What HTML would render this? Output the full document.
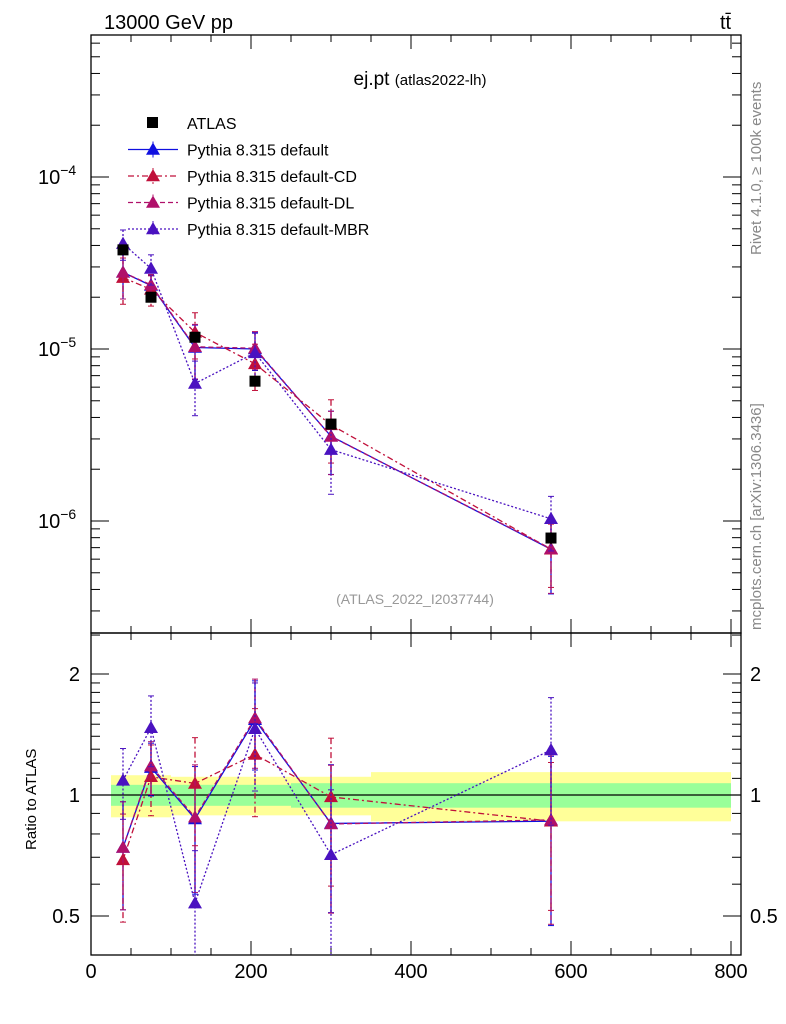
<!DOCTYPE html>
<html><head><meta charset="utf-8"><style>
body{margin:0;background:#fff;}
svg{display:block;font-family:"Liberation Sans",sans-serif;}
</style></head><body>
<svg id="c" width="786" height="1024" xmlns="http://www.w3.org/2000/svg">
<text x="104" y="29" font-size="20">13000 GeV pp</text>
<text x="720" y="29" font-size="20">tt̄</text>
<text x="420" y="85" font-size="19" text-anchor="middle">ej.pt <tspan font-size="15">(atlas2022-lh)</tspan></text>
<text x="415" y="604" font-size="14" fill="#999" text-anchor="middle">(ATLAS_2022_I2037744)</text>
<text transform="translate(761,255) rotate(-90)" font-size="15" fill="#888">Rivet 4.1.0, ≥ 100k events</text>
<text transform="translate(761,630) rotate(-90)" font-size="15" fill="#888">mcplots.cern.ch [arXiv:1306.3436]</text>
<text transform="translate(36,850) rotate(-90)" font-size="15">Ratio to ATLAS</text>
<g id="g"></g>
</svg>
<script>
const xs=[40,75,130,205,300,575];
const atlas=[3.77e-5,2.0e-5,1.17e-5,6.5e-6,3.66e-6,7.96e-7];
const atlasErr=[0.04,0.06,0.06,0.06,0.06,0.08];
const mDefault=[2.79e-5,2.34e-5,1.02e-5,1.0e-5,3.11e-6,6.85e-7];
const mCD=[2.6e-5,2.22e-5,1.25e-5,8.2e-6,3.62e-6,6.85e-7];
const mDL=[2.79e-5,2.36e-5,1.03e-5,1.01e-5,3.1e-6,6.9e-7];
const mMBR=[4.1e-5,2.94e-5,6.3e-6,9.5e-6,2.6e-6,1.03e-6];
const eDefault=[0.3,0.15,0.35,0.25,0.4,0.45];
const eCD=[0.3,0.2,0.3,0.3,0.4,0.4];
const eDL=[0.3,0.15,0.35,0.25,0.4,0.45];
const eMBR=[0.2,0.2,0.35,0.3,0.45,0.35];
const bandEdges=[25,55,100,160,250,350,800];
const bandIn=[0.06,0.06,0.06,0.06,0.07,0.07];
const bandOut=[0.12,0.12,0.11,0.11,0.11,0.14];
const xTicks=[0,200,400,600,800];

const NS="http://www.w3.org/2000/svg";
const g=document.getElementById('g');
function el(t,a,p){const e=document.createElementNS(NS,t);for(const k in a)e.setAttribute(k,a[k]);(p||g).appendChild(e);return e;}
const X=v=>91+v*0.8;
const Y=v=>177-(Math.log10(v)+4)*172;
const R=v=>795-Math.log2(v)*121;
const L=91,Rt=741,T=35,M=633,B=955;

// bands
for(let i=0;i<bandIn.length;i++){
  const x0=X(bandEdges[i]),x1=X(bandEdges[i+1]);
  let r=el('rect',{x:x0,y:R(1+bandOut[i]),width:x1-x0,height:R(1-bandOut[i])-R(1+bandOut[i]),fill:'#ffff99'});
  
  
  r=el('rect',{x:x0,y:R(1+bandIn[i]),width:x1-x0,height:R(1-bandIn[i])-R(1+bandIn[i]),fill:'#99ff99'});
  
  
}
el('line',{x1:L,x2:Rt,y1:R(1),y2:R(1),stroke:'#000','stroke-width':1.3});

// frames
el('rect',{x:L,y:T,width:Rt-L,height:M-T,fill:'none',stroke:'#000','stroke-width':1.3});
el('rect',{x:L,y:M,width:Rt-L,height:B-M,fill:'none',stroke:'#000','stroke-width':1.3});

// x ticks
for(let v=0;v<=800;v+=50){
  const big=v%200===0, len=big?14:7;
  el('line',{x1:X(v),x2:X(v),y1:B,y2:B-len,stroke:'#000'});
  el('line',{x1:X(v),x2:X(v),y1:M,y2:M-len,stroke:'#000'});
  el('line',{x1:X(v),x2:X(v),y1:M,y2:M+len,stroke:'#000'});
  el('line',{x1:X(v),x2:X(v),y1:T,y2:T+len,stroke:'#000'});
}
xTicks.forEach(v=>{const t=el('text',{x:X(v),y:978,'font-size':20,'text-anchor':'middle'});t.textContent=v;
 
 });

// main y ticks
for(let d=-7;d<=-3;d++)for(let m=1;m<10;m++){
  const v=m*Math.pow(10,d),y=Y(v);if(y<T||y>M)continue;
  const len=m===1?18:9;
  el('line',{x1:L,x2:L+len,y1:y,y2:y,stroke:'#000'});
  el('line',{x1:Rt,x2:Rt-len,y1:y,y2:y,stroke:'#000'});
}
[-4,-5,-6].forEach(d=>{const t=el('text',{x:38,y:Y(Math.pow(10,d))+7,'font-size':20});
 t.innerHTML='10<tspan dy="-9" font-size="14">'+d.toString().replace('-','−')+'</tspan>';
 
 });

// ratio y ticks
[0.5,0.6,0.7,0.8,0.9,1,1.1,1.2,1.3,1.4,1.5,1.6,1.7,1.8,1.9,2,2.5].forEach(v=>{
  const y=R(v);if(y<M||y>B)return;const big=(v===0.5||v===1||v===2);const len=big?18:9;
  el('line',{x1:L,x2:L+len,y1:y,y2:y,stroke:'#000'});
  el('line',{x1:Rt,x2:Rt-len,y1:y,y2:y,stroke:'#000'});
});
[[2,'2'],[1,'1'],[0.5,'0.5']].forEach(([v,s])=>{
  let t=el('text',{x:80,y:R(v)+7,'font-size':20,'text-anchor':'end'});t.textContent=s;
  
  
  t=el('text',{x:750,y:R(v)+7,'font-size':20});t.textContent=s;
  
  
});

function tri(cx,cy,col,name){const s=7;const p=el('polygon',{points:`${cx},${cy-s} ${cx-s},${cy+s*0.75} ${cx+s},${cy+s*0.75}`,fill:col});
 
 }
const series=[
 {n:'default',v:mDefault,e:eDefault,c:'#1010e0',d:''},
 {n:'cd',v:mCD,e:eCD,c:'#c0103a',d:'6,3,2,3'},
 {n:'dl',v:mDL,e:eDL,c:'#b0106a',d:'5,3'},
 {n:'mbr',v:mMBR,e:eMBR,c:'#4a12c0',d:'2,2'}];
series.forEach(s=>{
  const pm=xs.map((x,i)=>X(x)+','+Y(s.v[i])).join(' ');
  let pl=el('polyline',{points:pm,fill:'none',stroke:s.c,'stroke-width':1.3,'stroke-dasharray':s.d});
  
  
  const pr=xs.map((x,i)=>X(x)+','+R(s.v[i]/atlas[i])).join(' ');
  pl=el('polyline',{points:pr,fill:'none',stroke:s.c,'stroke-width':1.3,'stroke-dasharray':s.d});
  
  
  xs.forEach((x,i)=>{
    const v=s.v[i],e=s.e[i],r=v/atlas[i],cx=X(x);
    [[Y(v*(1+e)),Y(Math.max(v*(1-e),1e-9))],[R(r*(1+e)),Math.min(R(r*(1-e)),B)]].forEach(([a,b])=>{
      el('line',{x1:cx,x2:cx,y1:a,y2:b,stroke:s.c,'stroke-width':1.3,'stroke-dasharray':s.d});
      el('line',{x1:cx-3,x2:cx+3,y1:a,y2:a,stroke:s.c});
      if(b<B)el('line',{x1:cx-3,x2:cx+3,y1:b,y2:b,stroke:s.c});
    });
    tri(cx,Y(v),s.c,'marker-'+s.n);
    tri(cx,R(r),s.c,'ratio-marker-'+s.n);
  });
});
xs.forEach((x,i)=>{
  const cx=X(x),y=Y(atlas[i]);
  el('line',{x1:cx,x2:cx,y1:Y(atlas[i]*(1+atlasErr[i])),y2:Y(atlas[i]*(1-atlasErr[i])),stroke:'#000'});
  const r=el('rect',{x:cx-5.5,y:y-5.5,width:11,height:11,fill:'#000'});
  
  
});

// legend
const leg=[['ATLAS',null],['Pythia 8.315 default',series[0]],['Pythia 8.315 default-CD',series[1]],['Pythia 8.315 default-DL',series[2]],['Pythia 8.315 default-MBR',series[3]]];
leg.forEach(([lab,s],i)=>{
  const y=123+i*26.5;
  if(!s){const r=el('rect',{x:147,y:y-6,width:11,height:11,fill:'#000'});
    
    }
  else{el('line',{x1:128,x2:178,y1:y,y2:y,stroke:s.c,'stroke-width':1.3,'stroke-dasharray':s.d});
    el('line',{x1:153,x2:153,y1:y-8,y2:y+8,stroke:s.c,'stroke-dasharray':s.d});
    tri(153,y,s.c,'legend-marker-'+s.n);}
  const t=el('text',{x:187,y:y+6,'font-size':16});t.textContent=lab;
  
  
});
</script>
</body></html>
